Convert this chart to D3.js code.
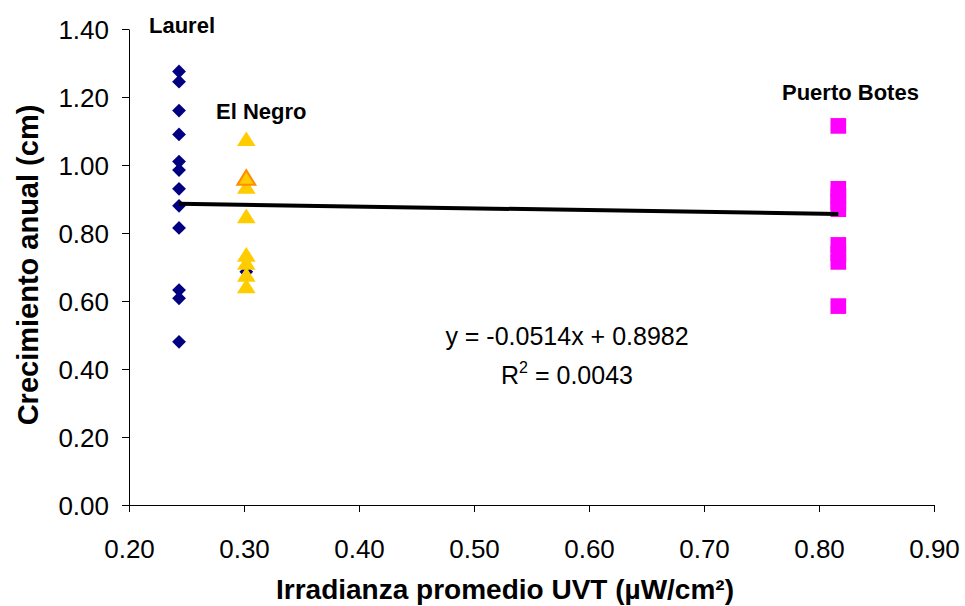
<!DOCTYPE html>
<html><head><meta charset="utf-8">
<script src="https://cdn.jsdelivr.net/npm/d3@7"></script>
<style>body{margin:0;background:#fff}svg{display:block;font-family:"Liberation Sans",Arial,sans-serif}</style>
</head><body><svg id="c" width="965" height="606"></svg>
<script>
const laurelX = 0.2435;
const laurelY = [1.275, 1.245, 1.16, 1.09, 1.01, 0.985, 0.93, 0.88, 0.815, 0.632, 0.608, 0.48];
const negroX = 0.302;
const negroBlueY = [0.725, 0.686];
const negroY = [1.07, 0.93, 0.843, 0.73, 0.706, 0.671, 0.637];
const negroOrangeY = [0.956];
const botesX = 0.8168;
const botesY = [1.115, 0.93, 0.91, 0.89, 0.87, 0.765, 0.74, 0.715, 0.585];
const slope = -0.0514, intercept = 0.8982;
const xTicks = [0.2, 0.3, 0.4, 0.5, 0.6, 0.7, 0.8, 0.9];
const yTicks = [0, 0.2, 0.4, 0.6, 0.8, 1.0, 1.2, 1.4];

const svg = d3.select("#c");
const x = d3.scaleLinear().domain([0.2, 0.9]).range([129, 934]);
const y = d3.scaleLinear().domain([0, 1.4]).range([505, 29]);

const gx = svg.append("g").attr("transform","translate(0,505)")
  .call(d3.axisBottom(x).tickValues(xTicks).tickFormat(d3.format(".2f")).tickSizeOuter(0).tickSizeInner(7));
gx.attr("font-size",null).attr("font-family",null);
gx.selectAll("text").attr("font-size",26).attr("dy",null).attr("y",53).attr("fill","#000");
gx.select(".domain").attr("stroke","#000");
gx.selectAll(".tick line").attr("stroke","#000");

const gy = svg.append("g").attr("transform","translate(129,0)")
  .call(d3.axisLeft(y).tickValues(yTicks).tickFormat(d3.format(".2f")).tickSizeOuter(0).tickSizeInner(7));
gy.attr("font-size",null).attr("font-family",null);
gy.selectAll("text").attr("font-size",26).attr("x",-20).attr("dy","0.38em").attr("fill","#000");
gy.select(".domain").attr("stroke","#000");
gy.selectAll(".tick line").attr("stroke","#000");

const diamondSq = d3.symbol().type(d3.symbolSquare).size(95);
const tri = d3.symbol().type(d3.symbolTriangle).size(125);
const sq = d3.symbol().type(d3.symbolSquare).size(245);

// Laurel
svg.append("g").selectAll("path").data(laurelY).join("path")
  .attr("d", diamondSq)
  .attr("transform", d => `translate(${x(laurelX)},${y(d)}) rotate(45)`)
  .attr("fill","#000080");
// blue points partly hidden under El Negro
svg.append("g").selectAll("path").data(negroBlueY).join("path")
  .attr("d", diamondSq)
  .attr("transform", d => `translate(${x(negroX)},${y(d)}) rotate(45)`)
  .attr("fill","#000080");
// El Negro
svg.append("g").selectAll("path").data(negroY).join("path")
  .attr("d", tri)
  .attr("transform", d => `translate(${x(negroX)},${y(d)}) scale(1.1,1)`)
  .attr("fill","#FFCC00");
svg.append("g").selectAll("path").data(negroOrangeY).join("path")
  .attr("d", tri)
  .attr("transform", d => `translate(${x(negroX)},${y(d)}) scale(1.05,1)`)
  .attr("fill","#FFCC00").attr("stroke","#FF8C00").attr("stroke-width",2);
// Puerto Botes
svg.append("g").selectAll("path").data(botesY).join("path")
  .attr("d", sq)
  .attr("transform", d => `translate(${x(botesX)},${y(d)})`)
  .attr("fill","#FF00FF");

// trend line
svg.append("line")
  .attr("x1", x(laurelX)).attr("y1", y(slope*laurelX+intercept))
  .attr("x2", x(botesX)).attr("y2", y(slope*botesX+intercept))
  .attr("stroke","#000").attr("stroke-width",4);

// labels
const lab = (t,xx,yy)=>svg.append("text").attr("x",xx).attr("y",yy).attr("font-size",22).attr("font-weight","bold").text(t);
lab("Laurel",149,33);
lab("El Negro",216,119);
lab("Puerto Botes",782,100);

svg.append("text").attr("x",567).attr("y",345).attr("font-size",25).attr("text-anchor","middle").text("y = -0.0514x + 0.8982");
const r2 = svg.append("text").attr("x",567).attr("y",384).attr("font-size",25).attr("text-anchor","middle");
r2.append("tspan").text("R");
r2.append("tspan").attr("font-size",16).attr("dy",-11).text("2");
r2.append("tspan").attr("dy",11).text(" = 0.0043");

svg.append("text").attr("x",505).attr("y",599).attr("text-anchor","middle").attr("font-size",28).attr("font-weight","bold")
  .text("Irradianza promedio UVT (µW/cm²)");
svg.append("text").attr("transform","translate(38,265) rotate(-90)").attr("text-anchor","middle").attr("font-size",29).attr("font-weight","bold")
  .text("Crecimiento anual (cm)");
</script></body></html>
